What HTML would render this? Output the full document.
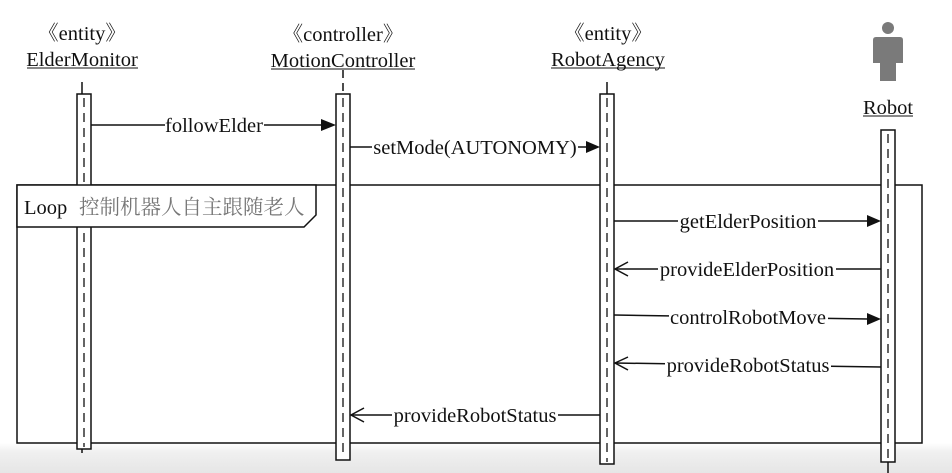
<!DOCTYPE html>
<html><head><meta charset="utf-8"><style>
html,body{margin:0;padding:0;width:952px;height:473px;overflow:hidden;background:#fff}
svg{display:block}
text{font-family:"Liberation Serif","Noto Serif CJK SC",serif;font-size:20.5px;fill:#111}
</style></head><body>
<svg width="952" height="473" viewBox="0 0 952 473" xmlns="http://www.w3.org/2000/svg">
<defs>
<linearGradient id="g" x1="0" y1="0" x2="0" y2="1">
<stop offset="0" stop-color="#fff"/><stop offset="0.3" stop-color="#f0f0f0"/><stop offset="1" stop-color="#e6e6e6"/>
</linearGradient>
</defs>
<rect x="0" y="443" width="952" height="30" fill="url(#g)"/>
<rect x="0" y="0" width="952" height="443" fill="#fff"/>

<!-- headers -->
<text x="82" y="40" text-anchor="middle">《entity》</text>
<text x="82" y="66" text-anchor="middle">ElderMonitor</text>
<line x1="27" y1="68" x2="138" y2="68" stroke="#111" stroke-width="1"/>
<text x="343" y="41" text-anchor="middle">《controller》</text>
<text x="343" y="67" text-anchor="middle">MotionController</text>
<line x1="271" y1="69" x2="415" y2="69" stroke="#111" stroke-width="1"/>
<text x="608" y="40" text-anchor="middle">《entity》</text>
<text x="608" y="66" text-anchor="middle">RobotAgency</text>
<line x1="551" y1="68" x2="665" y2="68" stroke="#111" stroke-width="1"/>
<text x="888" y="114" text-anchor="middle">Robot</text>
<line x1="863" y1="116" x2="913" y2="116" stroke="#111" stroke-width="1"/>

<!-- robot icon -->
<circle cx="888" cy="28" r="6" fill="#7a7a7a"/>
<path d="M876 37 H900 Q903 37 903 40 V63 H896 V81 H880 V63 H873 V40 Q873 37 876 37 Z" fill="#7a7a7a"/>

<!-- loop frame -->
<rect x="17" y="185" width="905" height="258" fill="none" stroke="#111" stroke-width="1.5"/>

<g stroke="#111" stroke-width="1.5" fill="#fff">
<line x1="82" y1="82" x2="82" y2="94"/>
<line x1="343" y1="70" x2="343" y2="94" stroke-dasharray="8,5"/>
<line x1="607" y1="82" x2="607" y2="94"/>
<rect x="77" y="94" width="14" height="355"/>
<rect x="336" y="94" width="14" height="366"/>
<rect x="600" y="94" width="14" height="370"/>
<rect x="881" y="130" width="14" height="332"/>
<line x1="888" y1="462" x2="888" y2="473"/>
<line x1="82" y1="449" x2="82" y2="456" stroke-dasharray="4,4"/>
</g>
<g stroke="#111" stroke-width="1.3" stroke-dasharray="9,6">
<line x1="84" y1="98" x2="84" y2="447"/>
<line x1="343" y1="98" x2="343" y2="458"/>
<line x1="607" y1="98" x2="607" y2="462"/>
<line x1="888" y1="134" x2="888" y2="460"/>
</g>

<path d="M17 185 H316 V215 L304 227 H17 Z" fill="#fff" stroke="#111" stroke-width="1.5"/>
<text x="24" y="214">Loop</text>
<text x="79" y="214" style="fill:#777">控制机器人自主跟随老人</text>

<!-- messages -->
<g stroke="#111" stroke-width="1.5" fill="none">
<line x1="91" y1="125" x2="323" y2="125"/>
<line x1="350" y1="147" x2="588" y2="147"/>
<line x1="614" y1="221" x2="868" y2="221"/>
<line x1="881" y1="269" x2="615" y2="269"/>
<polyline points="628,262 615,269 628,276"/>
<line x1="614" y1="315" x2="868" y2="319"/>
<line x1="881" y1="367" x2="615" y2="363"/>
<polyline points="628,357 615,363 628,370"/>
<line x1="600" y1="415" x2="351" y2="415"/>
<polyline points="364,408 351,415 364,422"/>
</g>
<g fill="#111">
<polygon points="321,119 336,125 321,131"/>
<polygon points="586,141 600,147 586,153"/>
<polygon points="867,215 881,221 867,227"/>
<polygon points="867,313 881,319 867,325"/>
</g>
<g>
<rect x="165" y="114" width="99" height="22" fill="#fff"/>
<text x="214" y="132" text-anchor="middle">followElder</text>
<rect x="372" y="136" width="206" height="22" fill="#fff"/>
<text x="475" y="154" text-anchor="middle">setMode(AUTONOMY)</text>
<rect x="678" y="210" width="140" height="22" fill="#fff"/>
<text x="748" y="228" text-anchor="middle">getElderPosition</text>
<rect x="658" y="258" width="178" height="22" fill="#fff"/>
<text x="747" y="276" text-anchor="middle">provideElderPosition</text>
<rect x="669" y="306" width="159" height="22" fill="#fff"/>
<text x="748" y="324" text-anchor="middle">controlRobotMove</text>
<rect x="665" y="354" width="166" height="22" fill="#fff"/>
<text x="748" y="372" text-anchor="middle">provideRobotStatus</text>
<rect x="392" y="404" width="166" height="22" fill="#fff"/>
<text x="475" y="422" text-anchor="middle">provideRobotStatus</text>
</g>
</svg>
</body></html>
